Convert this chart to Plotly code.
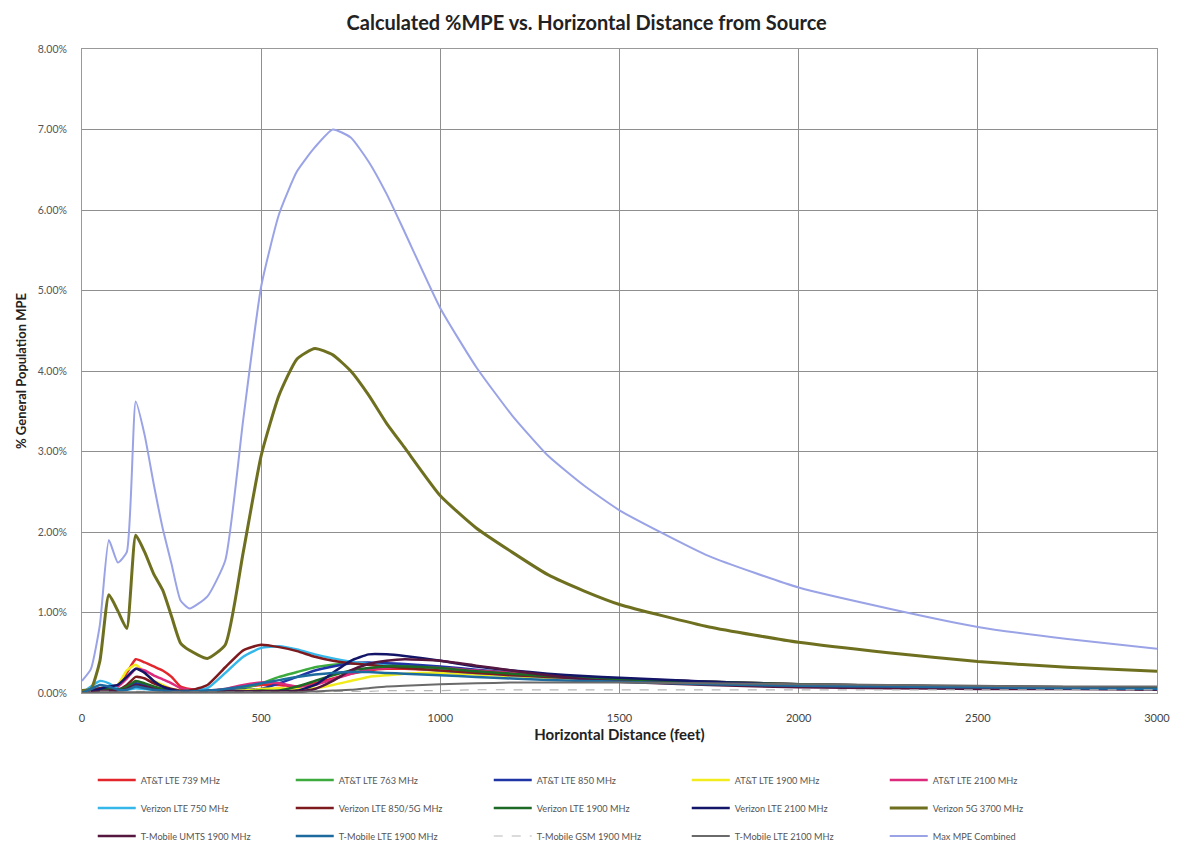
import plotly.graph_objects as go

# ---------------- data (values in % of General Population MPE) ----------------
distance_ft = [0, 25, 50, 75, 100, 125, 150, 175, 200, 225, 250, 275, 300, 350, 400, 450, 500, 550,
               600, 650, 700, 750, 800, 850, 900, 1000, 1100, 1200, 1300, 1400, 1500, 1750, 2000,
               2250, 2500, 2750, 3000]

att_lte_739 = [0.00, 0.02, 0.05, 0.08, 0.10, 0.25, 0.42, 0.38, 0.33, 0.28, 0.20, 0.08, 0.05, 0.03, 0.04, 0.07, 0.10, 0.10,
               0.08, 0.12, 0.18, 0.24, 0.28, 0.30, 0.30, 0.28, 0.25, 0.22, 0.20, 0.18, 0.16, 0.13, 0.10,
               0.08, 0.07, 0.06, 0.05]
att_lte_763 = [0.00, 0.02, 0.04, 0.06, 0.05, 0.05, 0.08, 0.07, 0.05, 0.04, 0.03, 0.02, 0.02, 0.03, 0.04, 0.06, 0.12, 0.20,
               0.26, 0.32, 0.35, 0.37, 0.37, 0.36, 0.35, 0.31, 0.27, 0.24, 0.21, 0.19, 0.17, 0.14, 0.11,
               0.09, 0.08, 0.07, 0.06]
att_lte_850 = [0.00, 0.03, 0.06, 0.08, 0.05, 0.06, 0.12, 0.10, 0.06, 0.04, 0.03, 0.02, 0.02, 0.03, 0.03, 0.04, 0.05, 0.12,
               0.20, 0.28, 0.33, 0.37, 0.38, 0.37, 0.36, 0.33, 0.29, 0.25, 0.22, 0.19, 0.17, 0.14, 0.11,
               0.09, 0.08, 0.07, 0.06]
att_lte_1900 = [0.00, 0.01, 0.03, 0.06, 0.10, 0.28, 0.35, 0.25, 0.15, 0.10, 0.05, 0.03, 0.02, 0.02, 0.02, 0.03, 0.05, 0.06,
                0.05, 0.06, 0.10, 0.15, 0.20, 0.22, 0.24, 0.25, 0.23, 0.21, 0.19, 0.17, 0.15, 0.12, 0.10,
                0.08, 0.07, 0.06, 0.05]
att_lte_2100 = [0.00, 0.01, 0.03, 0.05, 0.08, 0.18, 0.30, 0.28, 0.22, 0.17, 0.12, 0.06, 0.04, 0.03, 0.05, 0.10, 0.13, 0.12,
                0.08, 0.10, 0.17, 0.24, 0.29, 0.31, 0.32, 0.31, 0.28, 0.25, 0.22, 0.20, 0.18, 0.14, 0.11,
                0.09, 0.08, 0.07, 0.06]
vzw_lte_750 = [0.00, 0.08, 0.15, 0.12, 0.05, 0.04, 0.06, 0.05, 0.04, 0.03, 0.03, 0.02, 0.03, 0.06, 0.25, 0.45, 0.56, 0.58,
               0.54, 0.48, 0.43, 0.39, 0.36, 0.34, 0.32, 0.28, 0.25, 0.22, 0.20, 0.18, 0.16, 0.13, 0.10,
               0.09, 0.08, 0.07, 0.06]
vzw_lte_850 = [0.00, 0.03, 0.06, 0.05, 0.04, 0.10, 0.20, 0.18, 0.12, 0.08, 0.05, 0.03, 0.03, 0.10, 0.32, 0.53, 0.60, 0.57,
               0.52, 0.45, 0.40, 0.37, 0.35, 0.33, 0.31, 0.28, 0.25, 0.22, 0.20, 0.18, 0.16, 0.13, 0.10,
               0.09, 0.08, 0.07, 0.06]
vzw_lte_1900 = [0.00, 0.02, 0.04, 0.05, 0.04, 0.08, 0.15, 0.12, 0.08, 0.05, 0.03, 0.02, 0.02, 0.02, 0.02, 0.02, 0.03, 0.03,
                0.08, 0.15, 0.22, 0.28, 0.31, 0.33, 0.33, 0.31, 0.27, 0.24, 0.21, 0.19, 0.17, 0.14, 0.11,
                0.09, 0.08, 0.07, 0.06]
vzw_lte_2100 = [0.00, 0.02, 0.05, 0.08, 0.10, 0.20, 0.30, 0.25, 0.15, 0.08, 0.04, 0.02, 0.02, 0.02, 0.02, 0.02, 0.02, 0.02,
                0.03, 0.10, 0.25, 0.40, 0.48, 0.48, 0.46, 0.40, 0.33, 0.28, 0.24, 0.21, 0.19, 0.14, 0.10,
                0.08, 0.07, 0.06, 0.05]
vzw_5g_3700 = [0.03, 0.05, 0.40, 1.22, 1.02, 0.80, 1.96, 1.75, 1.48, 1.28, 0.95, 0.62, 0.53, 0.43, 0.60, 1.75, 2.95, 3.70,
               4.15, 4.28, 4.20, 4.00, 3.70, 3.35, 3.05, 2.45, 2.05, 1.75, 1.47, 1.27, 1.10, 0.82, 0.63,
               0.50, 0.39, 0.32, 0.27]
tmo_umts_1900 = [0.00, 0.01, 0.02, 0.03, 0.03, 0.05, 0.10, 0.08, 0.05, 0.03, 0.02, 0.02, 0.02, 0.02, 0.02, 0.02, 0.02, 0.02,
                 0.02, 0.05, 0.15, 0.28, 0.36, 0.40, 0.42, 0.40, 0.34, 0.28, 0.22, 0.17, 0.14, 0.10, 0.07,
                 0.06, 0.05, 0.05, 0.04]
tmo_lte_1900 = [0.00, 0.05, 0.10, 0.08, 0.04, 0.04, 0.08, 0.06, 0.04, 0.03, 0.02, 0.02, 0.02, 0.03, 0.05, 0.08, 0.12, 0.16,
                0.20, 0.23, 0.25, 0.26, 0.26, 0.25, 0.24, 0.22, 0.20, 0.18, 0.16, 0.15, 0.14, 0.11, 0.09,
                0.08, 0.07, 0.06, 0.05]
tmo_gsm_1900 = [0.00, 0.01, 0.02, 0.02, 0.01, 0.01, 0.02, 0.02, 0.01, 0.01, 0.01, 0.01, 0.01, 0.01, 0.01, 0.01, 0.01, 0.01,
                0.01, 0.01, 0.02, 0.02, 0.02, 0.03, 0.03, 0.03, 0.04, 0.04, 0.04, 0.04, 0.04, 0.04, 0.04,
                0.04, 0.04, 0.04, 0.04]
tmo_lte_2100 = [0.00, 0.00, 0.01, 0.01, 0.01, 0.01, 0.01, 0.01, 0.01, 0.01, 0.01, 0.01, 0.01, 0.01, 0.01, 0.01, 0.01, 0.01,
                0.01, 0.02, 0.03, 0.04, 0.06, 0.08, 0.09, 0.11, 0.12, 0.13, 0.13, 0.13, 0.13, 0.12, 0.11,
                0.10, 0.09, 0.08, 0.08]
max_mpe_combined = [0.15, 0.30, 0.85, 1.90, 1.62, 1.75, 3.62, 3.20, 2.60, 2.05, 1.60, 1.15, 1.05, 1.20, 1.65, 3.40, 5.05, 5.95,
                    6.48, 6.78, 7.00, 6.90, 6.60, 6.20, 5.73, 4.78, 4.05, 3.45, 2.95, 2.58, 2.27, 1.70, 1.31,
                    1.05, 0.82, 0.67, 0.55]

series_names = ["AT&T LTE 739 MHz", "AT&T LTE 763 MHz", "AT&T LTE 850 MHz", "AT&T LTE 1900 MHz",
                "AT&T LTE 2100 MHz", "Verizon LTE 750 MHz", "Verizon LTE 850/5G MHz", "Verizon LTE 1900 MHz",
                "Verizon LTE 2100 MHz", "Verizon 5G 3700 MHz", "T-Mobile UMTS 1900 MHz", "T-Mobile LTE 1900 MHz",
                "T-Mobile GSM 1900 MHz", "T-Mobile LTE 2100 MHz", "Max MPE Combined"]
series_values = [att_lte_739, att_lte_763, att_lte_850, att_lte_1900, att_lte_2100, vzw_lte_750, vzw_lte_850,
                 vzw_lte_1900, vzw_lte_2100, vzw_5g_3700, tmo_umts_1900, tmo_lte_1900, tmo_gsm_1900,
                 tmo_lte_2100, max_mpe_combined]

x_ticks = [0, 500, 1000, 1500, 2000, 2500, 3000]
y_ticks = [0, 1, 2, 3, 4, 5, 6, 7, 8]
y_tick_labels = ["0.00%", "1.00%", "2.00%", "3.00%", "4.00%", "5.00%", "6.00%", "7.00%", "8.00%"]

# ---------------- styles ----------------
colors = ["#E3262B", "#3DAA3D", "#1F35A5", "#F2EC1C", "#DE2A7C", "#35B7EA", "#7E1A1E", "#1C6A24",
          "#131668", "#6E7020", "#55163F", "#1D6A9E", "#B8B8B8", "#6A6A6A", "#9AA3E6"]
widths = [2.5, 2.5, 2.5, 2.5, 2.5, 2.5, 2.5, 2.5, 2.5, 3, 2.5, 2.5, 1.2, 2, 2]
dashes = ["solid"] * 12 + ["dash", "solid", "solid"]
legend_ids = ["legend"] * 5 + ["legend2"] * 5 + ["legend3"] * 5

fig = go.Figure()
for name, vals, c, w, d, lg in zip(series_names, series_values, colors, widths, dashes, legend_ids):
    fig.add_trace(go.Scatter(x=distance_ft, y=vals, name=name, mode="lines", legend=lg,
                             line=dict(color=c, width=w, dash=d, shape="spline", smoothing=0.5)))

font_family = "Lato, 'Open Sans', sans-serif"
leg_common = dict(orientation="h", x=0.01, xanchor="left", yanchor="middle", yref="container",
                  entrywidth=145, entrywidthmode="pixels", itemwidth=38,
                  font=dict(size=9.2, color="#555"), bgcolor="rgba(0,0,0,0)")

fig.update_layout(
    width=1181, height=845,
    paper_bgcolor="white", plot_bgcolor="white",
    margin=dict(l=74, r=32, t=41, b=160),
    title=dict(text="<b>Calculated %MPE vs. Horizontal Distance from Source</b>",
               x=0.49, xanchor="center", y=0.991, yanchor="top",
               font=dict(family=font_family, size=20, color="#222")),
    font=dict(family=font_family, color="#444"),
    showlegend=True,
    legend=dict(leg_common, y=0.0864),
    legend2=dict(leg_common, y=0.0533),
    legend3=dict(leg_common, y=0.0201),
    xaxis=dict(range=[0, 3000], tickvals=x_ticks, showgrid=True, gridcolor="#8f8f8f", gridwidth=1,
               showline=True, linecolor="#999", mirror=True, zeroline=False,
               ticks="outside", ticklen=15, tickcolor="rgba(0,0,0,0)",
               tickfont=dict(size=11, color="#444"),
               title=dict(text="<b>Horizontal Distance (feet)</b>", standoff=6,
                          font=dict(size=15, color="#222"))),
    yaxis=dict(range=[0, 8], tickvals=y_ticks, ticktext=y_tick_labels,
               showgrid=True, gridcolor="#8f8f8f", gridwidth=1,
               showline=True, linecolor="#999", mirror=True, zeroline=False,
               ticks="outside", ticklen=12, tickcolor="rgba(0,0,0,0)",
               tickfont=dict(size=10.5, color="#555"),
               title=dict(text="<b>% General Population MPE</b>", standoff=8,
                          font=dict(size=13, color="#222"))),
)

fig.write_html("out.html")
